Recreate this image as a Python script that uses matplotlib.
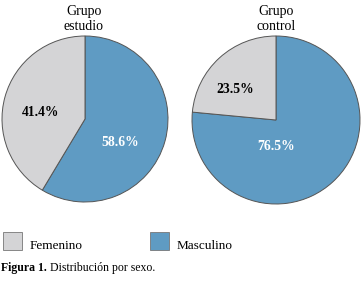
import matplotlib
matplotlib.use("Agg")
import matplotlib.pyplot as plt

plt.rcParams['font.family'] = ['Liberation Serif', 'DejaVu Serif']

categories = ["Masculino", "Femenino"]
groups = ["Grupo\nestudio", "Grupo\ncontrol"]
values_estudio = [58.6, 41.4]
values_control = [76.5, 23.5]
series = [values_estudio, values_control]

colors = ["#5f9bc3", "#d4d4d6"]
label_colors = ["white", "black"]

W, H = 361, 281
fig = plt.figure(figsize=(W / 100, H / 100), dpi=100)

# pie layout in pixels: (center x, center y, radius)
layout = [(85, 119, 83), (276, 120, 84)]
title_x = [84, 276]
# label offsets (fraction of radius) for each wedge: [Masculino, Femenino]
label_pos = [[(0.42, -0.28), (-0.54, 0.08)],
             [(0.0, -0.32), (-0.49, 0.36)]]

for vals, grp, (cx, cy, r), lp, tx in zip(series, groups, layout, label_pos, title_x):
    ax = fig.add_axes([(cx - r) / W, (H - cy - r) / H, 2 * r / W, 2 * r / H])
    ax.pie(vals, colors=colors, startangle=90, counterclock=False,
           wedgeprops=dict(edgecolor="#555555", linewidth=0.7))
    ax.set_xlim(-1.0, 1.0)
    ax.set_ylim(-1.0, 1.0)
    ax.set_aspect("equal")
    ax.axis("off")
    for v, (lx, ly), tc in zip(vals, lp, label_colors):
        ax.text(lx, ly, f"{v:.1f}%", ha="center", va="center",
                fontsize=9.8, fontweight="bold", color=tc)
    fig.text(tx / W, (H - 19) / H, grp, ha="center", va="center",
             fontsize=10, linespacing=1.15)

# legend
legend_items = [("Femenino", colors[1], 3), ("Masculino", colors[0], 150)]
for name, col, x in legend_items:
    fig.patches.append(plt.Rectangle((x / W, (H - 250) / H), 19 / W, 18 / H,
                                     transform=fig.transFigure, facecolor=col,
                                     edgecolor="#777777", linewidth=0.6))
    fig.text((x + 27) / W, (H - 246) / H, name, ha="left", va="center",
             fontsize=9.5)

t1 = fig.text(1 / W, (H - 268) / H, "Figura 1.", ha="left", va="center",
              fontsize=8.5, fontweight="bold")
fig.canvas.draw()
bb = t1.get_window_extent(renderer=fig.canvas.get_renderer())
fig.text((bb.x1 + 3) / W, (H - 268) / H, "Distribución por sexo.", ha="left",
         va="center", fontsize=8.5)

fig.savefig("out.png", dpi=100)
